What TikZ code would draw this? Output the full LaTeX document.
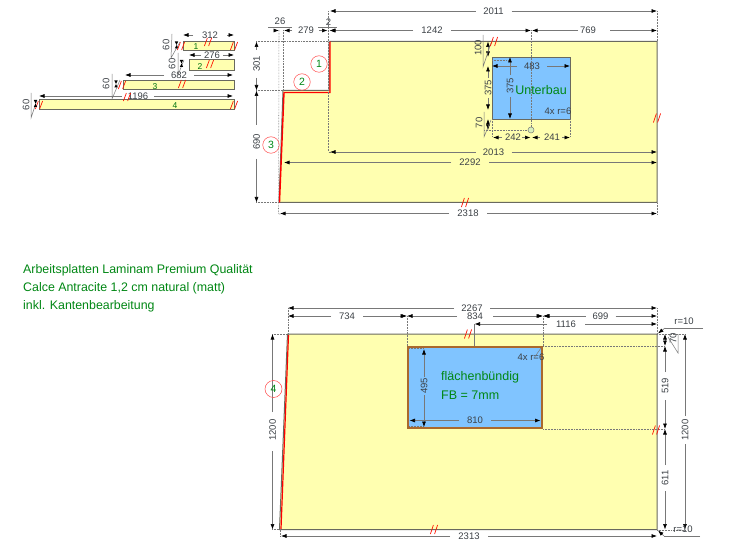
\documentclass[tikz,border=0pt]{standalone}
\usepackage{fontspec}
\setmainfont{Liberation Sans}
\usetikzlibrary{arrows.meta}
\definecolor{plate}{RGB}{255,255,176}
\definecolor{cut}{RGB}{128,196,255}
\definecolor{edgeg}{RGB}{105,105,95}
\definecolor{dimg}{RGB}{120,120,120}
\definecolor{lab}{RGB}{60,65,70}
\definecolor{grn}{RGB}{0,135,20}
\definecolor{rim}{RGB}{170,105,45}
\newcounter{lbl}
\tikzset{
  plateshape/.style={draw=edgeg,fill=plate,line width=1pt},
  cutshape/.style={draw=edgeg,fill=cut,line width=0.7pt},
  dimline/.style={draw=dimg,line width=0.6pt,-{Latex[length=5.5pt,width=4pt,black]}},
  bothline/.style={draw=dimg,line width=0.6pt,{Latex[length=5.5pt,width=4pt,black]}-{Latex[length=5.5pt,width=4pt,black]}},
  plainline/.style={draw=dimg,line width=0.5pt},
  extline/.style={draw=dimg,line width=0.55pt,densely dotted},
  redline/.style={draw=red,line width=1.4pt},
  slash/.style={draw=red!85!orange,line width=0.7pt},
  dimtext/.style={font=\fontsize{9.5}{10}\selectfont,text=lab,inner sep=0pt},
  greentext/.style={font=\fontsize{12.4}{14}\selectfont,text=grn,inner sep=0pt,anchor=west},
  digit/.style={font=\fontsize{8.5}{9}\selectfont,text=grn!85!black,inner sep=0pt},
  marker/.style={circle,draw=red!70!white,line width=0.5pt,minimum size=16.5pt,inner sep=0pt,
     font=\fontsize{10.5}{12}\selectfont,text=grn},
}
\newcommand{\Tx}[3]{\stepcounter{lbl}\node[dimtext] (t\arabic{lbl}) at (#1,#2) {#3};}
\newcommand{\Tv}[3]{\stepcounter{lbl}\node[dimtext,rotate=90] (t\arabic{lbl}) at (#1,#2) {#3};}
\newcommand{\Hd}[6]{\Tx{#4}{#3}{#6}
  \draw[dimline] ({#4-#5},#3) -- (#1,#3);
  \draw[dimline] ({#4+#5},#3) -- (#2,#3);}
\newcommand{\Vd}[6]{\Tv{#3}{#4}{#6}
  \draw[dimline] (#3,{#4-#5}) -- (#3,#1);
  \draw[dimline] (#3,{#4+#5}) -- (#3,#2);}
\newcommand{\Sl}[3][4.5]{\draw[slash] ({#2-3.6},{#3+#1}) -- ({#2-0.6},{#3-#1}) ({#2+0.6},{#3+#1}) -- ({#2+3.6},{#3-#1});}
\begin{document}
\begin{tikzpicture}[x=1pt,y=-1pt]
\useasboundingbox (0,0) rectangle (750,556);
\fill[white] (0,0) rectangle (750,556);

% ---------- small edge strips
\draw[plateshape] (183,41.5) rectangle (234,51);
\draw[plateshape] (189,60) rectangle (234,70.5);
\draw[plateshape] (123,80.5) rectangle (234,90);
\draw[plateshape] (39,100) rectangle (234,109.5);
\node[digit] (s1) at (196,46.5) {1};
\node[digit] (s2) at (200,66.5) {2};
\node[digit] (s3) at (155,86.5) {3};
\node[digit] (s4) at (175,105.5) {4};
\Hd{183}{234}{35}{210}{17}{312}
\Hd{189}{234}{55}{212}{11}{276}
\Hd{125}{233}{75}{179}{15}{682}
\Hd{39}{233}{96}{138}{16}{1196}
\Sl[4]{181}{46}\Sl[4]{234}{46}\Sl[4]{208}{42}
\Sl[4]{210}{64}
\Sl[4]{122}{85}\Sl[4]{182}{84}
\Sl[4]{39}{105}\Sl[4]{234}{105}\Sl[4]{127}{97}
\Tv{166}{45}{60}\Tv{172}{64}{60}\Tv{106}{84}{60}\Tv{26}{105}{60}
\draw[plainline] (172,34) -- (171,58) -- (180,42);
\draw[plainline] (178,53) -- (178,75) -- (184,60);
\draw[plainline] (112,74) -- (112,99) -- (120,80);
\draw[plainline] (31,93) -- (31,118) -- (37,100);
\foreach \xa/\ya in {176.5/41.5,181.5/60,116/80.5,35.5/100}{
  \fill[black] (\xa-1.7,\ya) -- (\xa+1.7,\ya) -- (\xa,\ya+3.5) -- (\xa-1.7,\ya+7) -- (\xa+1.7,\ya+7) -- (\xa,\ya+3.5) -- cycle;
}

% ---------- upper plate
\draw[plateshape] (329,41.5) -- (657,41.5) -- (657,202.5) -- (279,202.5) -- (283,90.5) -- (329,90.5) -- cycle;
\draw[cutshape] (492,57) rectangle (570,119);
\draw[redline] (330,41.5) -- (330,92.5) -- (284,92.5) -- (279.5,202.5);
\draw[extline] (328.5,11) -- (328.5,152) -- (332,152);
\draw[extline] (657,11) -- (657,41);
\draw[extline] (657,203) -- (657,214);
\draw[extline] (279,30) -- (278.5,214) -- (282,214);
\draw[extline] (283,30) -- (283,92);
\draw[extline] (256,41.5) -- (329,41.5);
\draw[extline] (256,90.5) -- (283,90.5);
\draw[extline] (256,202.5) -- (279,202.5);
\draw[extline] (492,119) -- (492,137);
\draw[extline] (570,119) -- (570,137);
\draw[extline] (492,130) -- (528,130);
\draw[extline] (492,60) -- (510,60);
\draw[extline] (484,130) -- (492,130);
\draw[extline] (531,30) -- (531,127);
\Hd{330}{657}{11}{493.5}{18}{2011}
\Hd{330}{657}{152}{493.5}{18}{2013}
\Hd{284}{657}{162.5}{470}{19}{2292}
\Hd{280}{657}{213.5}{468}{19}{2318}
\Tx{280}{21.5}{26}
\draw[plainline] (268,27) -- (292,27);
\draw[dimline] (292,30.5) -- (284,30.5);
\draw[dimline] (274,30.5) -- (279,30.5);
\Tx{306}{30.5}{279}
\Tx{328.5}{22}{2}
\draw[plainline] (318,27) -- (337,27);
\draw[dimline] (319,30.5) -- (327.5,30.5);
\draw[dimline] (338,30.5) -- (329.5,30.5);
\Hd{330}{531}{30.5}{432}{19}{1242}
\draw[dimline] (578,30.5) -- (532,30.5);
\Tx{588}{30}{769}
\draw[dimline] (610,30.5) -- (657,30.5);
\Vd{41.5}{90.5}{256.5}{64}{14}{301}
\Vd{90.5}{202.5}{256.5}{142}{17}{690}
\Vd{57}{119}{510}{86}{11}{375}
\draw[bothline] (488,41.5) -- (488,57);
\Tv{478}{48}{100}
\draw[plainline] (483,35) -- (483,67) -- (491,43);
\Tv{488}{88}{375}
\draw[dimline] (488,78) -- (488,66);
\draw[dimline] (488,98) -- (488,110);
\draw[bothline] (488,119) -- (488,130);
\Tv{479}{123}{70}
\draw[plainline] (484,112) -- (484,137) -- (491,120);
\Hd{492}{570}{66}{532}{15}{483}
\Tx{513}{137}{242}
\Tx{552}{137}{241}
\draw[dimline] (502,137.5) -- (493,137.5);
\draw[dimline] (522,137.5) -- (530.5,137.5);
\draw[dimline] (540,137.5) -- (532,137.5);
\draw[dimline] (562,137.5) -- (570,137.5);
\draw[plainline,fill=cyan!15!plate] (531,130) circle (3);
\Tx{558}{111.5}{4x r=6}
\node[font=\fontsize{12.5}{14}\selectfont,text=grn,inner sep=0pt] (unter) at (541,90.5) {Unterbau};
\Sl{494}{41.5}\Sl{657}{118}\Sl{465}{202.5}
\node[marker] (m1) at (319,64) {1};
\node[marker] (m2) at (302,82) {2};
\node[marker] (m3) at (271,145) {3};

% ---------- note
\node[greentext] (n1) at (23,270) {Arbeitsplatten Laminam Premium Qualität};
\node[greentext] (n2) at (23,288) {Calce Antracite 1,2 cm natural (matt)};
\node[greentext] (n3) at (23,306) {inkl. Kantenbearbeitung};

% ---------- lower plate
\draw[plateshape] (287.5,334) -- (657,334) -- (657,529.5) -- (279.5,529.5) -- cycle;
\draw[redline,line width=1.2pt] (288.5,334.5) -- (281,529);
\draw[draw=rim,fill=cut,line width=2.4pt] (407.8,346.8) rectangle (542.2,428.2);
\draw[extline] (288,308) -- (288,334);
\draw[extline] (657,308) -- (657,334);
\draw[extline] (407,316) -- (407,346);
\draw[extline] (543,316) -- (543,346);
\draw[plainline] (474,324) -- (474,346);
\draw[extline] (272,334) -- (288,334);
\draw[extline] (272,529.5) -- (280,529.5);
\draw[extline] (280,529.5) -- (280,536);
\draw[extline] (657,334) -- (686,334);
\draw[extline] (657,530) -- (686,530);
\draw[extline] (543,346) -- (665,346);
\draw[extline] (543,429) -- (665,429);
\draw[extline] (409,348.5) -- (424,348.5);
\draw[extline] (409,426.5) -- (424,426.5);
\Hd{288}{657}{308}{472}{18}{2267}
\Hd{288}{407}{316}{347}{16}{734}
\Hd{407}{543}{316}{475}{18}{834}
\Hd{543}{657}{316}{600.5}{15}{699}
\Hd{474.5}{657}{324}{566}{19}{1116}
\draw[dimline] (398,316) -- (406,316);
\draw[dimline] (535,316) -- (542,316);
\draw[dimline] (552,316) -- (544,316);
\Hd{281}{657}{536}{469}{19}{2313}
\Tv{272.5}{430}{1200}
\draw[dimline] (272.5,412) -- (272.5,334);
\draw[dimline] (272.5,451) -- (272.5,529.5);
\Vd{349}{427}{424}{386}{9}{495}
\Hd{409.5}{540.5}{420.5}{475}{16}{810}
\node[greentext,font=\fontsize{12.5}{14}\selectfont] (fb1) at (441,377) {flächenbündig};
\node[greentext,font=\fontsize{12.5}{14}\selectfont] (fb2) at (441,395) {FB = 7mm};
\Tx{531}{357.5}{4x r=6}
\draw[plainline] (534,358) -- (541,348);
\draw[bothline] (665,334) -- (665,346);
\Tv{673}{338}{70}
\draw[plainline] (668,337) -- (678,353) -- (678,334);
\Vd{346}{429}{665}{386}{14}{519}
\Vd{429}{529.5}{665}{478}{13}{611}
\Vd{334}{529.5}{685}{430}{14}{1200}
\Tx{684}{321}{r=10}
\draw[plainline] (703,328) -- (665,328);
\draw[dimline] (665,328) -- (658,333.5);
\Tx{683}{529.5}{r=10}
\draw[plainline] (700,536) -- (664,536);
\draw[dimline] (664,536) -- (658,530.5);
\Sl{468}{334}\Sl{434}{529.5}\Sl{656}{430}
\node[marker,minimum size=17pt] (m4) at (273.5,389) {4};
\end{tikzpicture}
\end{document}
